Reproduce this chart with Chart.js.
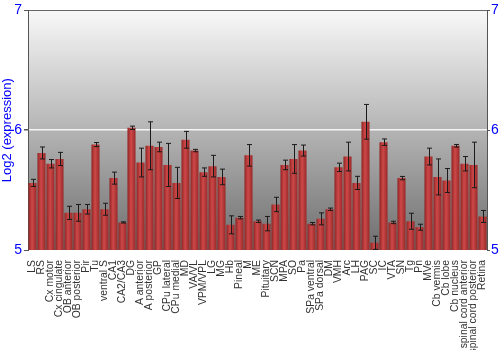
<!DOCTYPE html>
<html>
<head>
<meta charset="utf-8">
<script src="https://cdn.jsdelivr.net/npm/chart.js@4"></script>
<style>
  html, body { margin: 0; padding: 0; background: #fff; }
  #wrap { width: 500px; height: 350px; }
</style>
</head>
<body>
<div id="wrap"><canvas id="chart" width="500" height="350"></canvas></div>
<script>
// brain regions
const regions = ['LS', 'RS', 'Cx motor', 'Cx cingulate', 'OB anterior', 'OB posterior', 'Pir', 'Tu',
  'ventral S', 'CA1', 'CA2/CA3', 'DG', 'A anterior', 'A posterior', 'GP', 'CPu lateral', 'CPu medial',
  'MD', 'VA/VL', 'VPM/VPL', 'LG', 'MG', 'Hb', 'Pineal', 'M', 'ME', 'Pituitary', 'SCN', 'MPA', 'SO', 'Pa',
  'SPa ventral', 'SPa dorsal', 'DM', 'VMH', 'Arc', 'LH', 'PAG', 'SC', 'IC', 'VTA', 'SN', 'Tg', 'Pn', 'MVe',
  'Cb vermis', 'Cb lobe', 'Cb nucleus', 'spinal cord anterior', 'spinal cord posterior', 'Retina'];

// log2 expression (mean)
const expression = [5.56, 5.81, 5.72, 5.76, 5.31, 5.31, 5.34, 5.88,
  5.34, 5.60, 5.23, 6.02, 5.73, 5.87, 5.86, 5.71, 5.56,
  5.92, 5.83, 5.65, 5.70, 5.61, 5.21, 5.27, 5.79, 5.24, 5.22, 5.38, 5.71, 5.76, 5.83,
  5.22, 5.26, 5.34, 5.69, 5.78, 5.56, 6.07, 5.06, 5.90, 5.23, 5.60, 5.24, 5.19, 5.78,
  5.61, 5.58, 5.87, 5.72, 5.71, 5.28];

// standard error (+/-)
const stdErr = [0.03, 0.05, 0.035, 0.055, 0.055, 0.07, 0.04, 0.017,
  0.05, 0.05, 0.005, 0.014, 0.12, 0.2, 0.04, 0.18, 0.13,
  0.07, 0.01, 0.035, 0.09, 0.065, 0.075, 0.01, 0.09, 0.01, 0.06, 0.06, 0.04, 0.12, 0.046,
  0.01, 0.05, 0.01, 0.035, 0.12, 0.055, 0.145, 0.055, 0.027, 0.01, 0.014, 0.067, 0.025, 0.07,
  0.15, 0.10, 0.011, 0.06, 0.19, 0.05];

const yTicks = [5, 6, 7];

// grey backdrop behind the plot
const backdrop = {
  id: 'backdrop',
  beforeDraw(chart) {
    const { ctx, chartArea: a } = chart;
    const g = ctx.createLinearGradient(0, a.top, 0, a.bottom);
    g.addColorStop(0, '#f8f8f8');
    g.addColorStop(0.5, '#b4b4b4');
    g.addColorStop(1, '#6e6e6e');
    ctx.save();
    ctx.fillStyle = g;
    ctx.fillRect(a.left, a.top, a.right - a.left, a.bottom - a.top);
    ctx.restore();
  }
};

// error bars on top of each column
const errorBars = {
  id: 'errorBars',
  afterDatasetsDraw(chart) {
    const { ctx, scales: { x, y } } = chart;
    ctx.save();
    ctx.strokeStyle = '#1a1a1a';
    ctx.lineWidth = 1;
    expression.forEach((v, i) => {
      const px = Math.round(x.getPixelForValue(i)) + 0.5;
      const top = y.getPixelForValue(v + stdErr[i]);
      const bot = y.getPixelForValue(v - stdErr[i]);
      ctx.beginPath();
      ctx.moveTo(px, top); ctx.lineTo(px, bot);
      ctx.moveTo(px - 2.5, top); ctx.lineTo(px + 2.5, top);
      ctx.moveTo(px - 2.5, bot); ctx.lineTo(px + 2.5, bot);
      ctx.stroke();
    });
    ctx.restore();
  }
};

function barFill(c) {
  const chart = c.chart;
  const x = chart.scales.x;
  if (!x || c.dataIndex == null) return '#b33a3a';
  const cx = x.getPixelForValue(c.dataIndex);
  if (!isFinite(cx)) return '#b33a3a';
  const g = chart.ctx.createLinearGradient(cx - 4.5, 0, cx + 4.5, 0);
  g.addColorStop(0, '#86201f');
  g.addColorStop(0.45, '#cf4848');
  g.addColorStop(1, '#922626');
  return g;
}

const ctx = document.getElementById('chart').getContext('2d');

new Chart(ctx, {
  type: 'bar',
  data: {
    labels: regions,
    datasets: [{
      data: expression,
      backgroundColor: barFill,
      borderWidth: 0,
      barPercentage: 0.9,
      categoryPercentage: 1.0
    }]
  },
  options: {
    responsive: false,
    animation: false,
    layout: { padding: { top: 10, left: 0, right: 0, bottom: 0 } },
    plugins: {
      legend: { display: false },
      tooltip: { enabled: false }
    },
    scales: {
      x: {
        grid: { display: false },
        border: { display: false },
        ticks: {
          autoSkip: false,
          minRotation: 90,
          maxRotation: 90,
          padding: 2,
          color: '#333',
          font: { family: 'Liberation Sans', size: 10.4 }
        },
        afterFit(s) { s.height = 100; }
      },
      y: {
        min: 5,
        max: 7,
        position: 'left',
        afterBuildTicks(s) { s.ticks = yTicks.map(v => ({ value: v })); },
        title: {
          display: true,
          text: 'Log2 (expression)',
          color: '#0000ff',
          padding: 0,
          font: { family: 'Liberation Sans', size: 13 }
        },
        ticks: {
          color: '#0000ff',
          padding: 2,
          font: { family: 'Liberation Sans', size: 14 }
        },
        grid: {
          color: c => c.tick && c.tick.value === 6 ? '#f4f4f4' : (c.tick && c.tick.value === 7 ? '#666666' : 'rgba(0,0,0,0)'),
          lineWidth: c => c.tick && c.tick.value === 6 ? 1.5 : 1,
          tickColor: '#555',
          tickLength: 4
        },
        border: { color: '#555' },
        afterFit(s) { s.width = 28; }
      },
      y2: {
        min: 5,
        max: 7,
        position: 'right',
        afterBuildTicks(s) { s.ticks = yTicks.map(v => ({ value: v })); },
        ticks: {
          color: '#0000ff',
          padding: 1,
          font: { family: 'Liberation Sans', size: 14 }
        },
        grid: {
          drawOnChartArea: false,
          tickColor: '#555',
          tickLength: 3
        },
        border: { color: '#555' },
        afterFit(s) { s.width = 13; }
      }
    }
  },
  plugins: [backdrop, errorBars]
});
</script>
</body>
</html>
